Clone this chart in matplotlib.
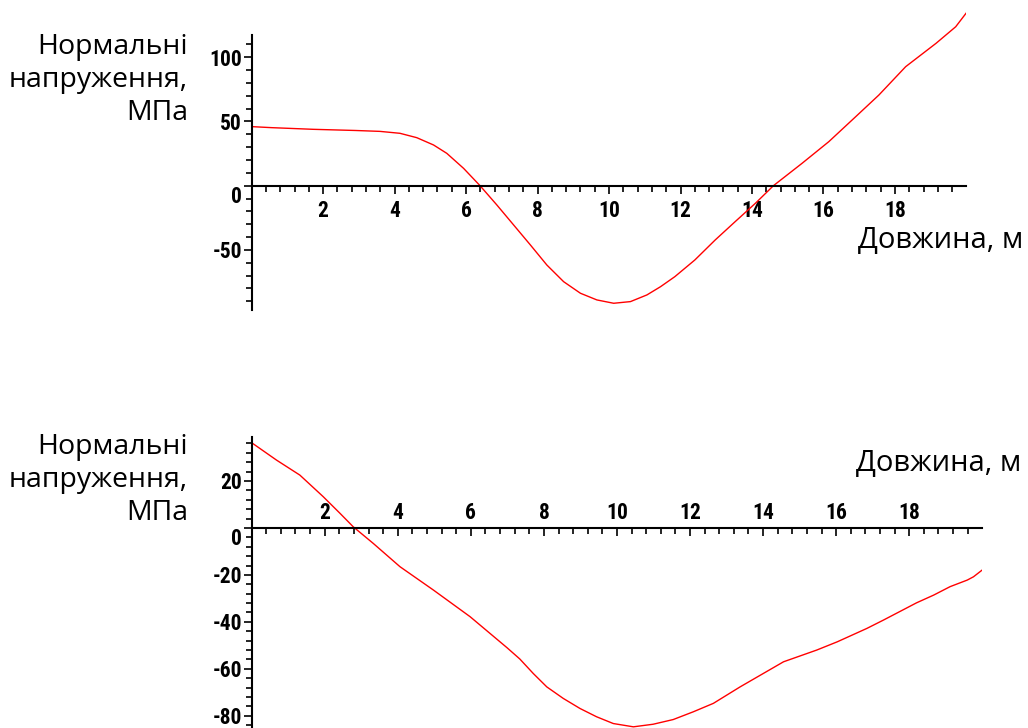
import matplotlib.pyplot as plt
import numpy as np
from matplotlib.ticker import FixedLocator

plt.rcParams['axes.unicode_minus'] = False

# Top plot: normal stresses along the length
x_top = [0, 0.56, 1.73, 2.9, 3.59, 4.15, 4.62, 5.09, 5.46, 5.93, 6.39, 6.86, 7.33, 7.8, 8.26, 8.73,
         9.2, 9.66, 10.13, 10.6, 11.06, 11.44, 11.84, 12.4, 12.97, 13.53, 14.1, 14.6, 15.4, 16.15,
         16.9, 17.55, 18.3, 19.15, 19.7, 20]
y_top = [46.0, 45.2, 43.9, 43.0, 42.3, 40.8, 37.4, 31.7, 25.2, 13.5, 0, -15, -30.6, -46.2, -61.8, -74.8,
         -83.8, -89, -91.6, -90.3, -85.1, -78.7, -70.9, -57.9, -42.3, -28, -13.6, 0, 17.4, 34.3,
         53.7, 70.6, 92.7, 110.9, 123.8, 134.7]

# Bottom plot
x_bot = [0, 0.68, 1.32, 1.96, 2.42, 2.78, 3.33, 4.06, 4.98, 5.98, 6.99, 7.34, 7.71, 8.08, 8.53, 8.99,
         9.44, 9.9, 10.45, 10.99, 11.54, 12.09, 12.64, 13.37, 14.56, 15.47, 16.03, 16.84, 17.3, 18.2,
         18.67, 19.12, 19.59, 19.76, 20]
y_bot = [36.3, 28.9, 22.5, 13.3, 6.2, 0.5, -6.6, -16.5, -26.5, -37.8, -51.0, -55.8, -62.0, -67.7, -72.6, -76.9,
         -80.4, -83.3, -84.7, -83.6, -81.6, -78.3, -74.7, -67.7, -57, -52, -48.5, -42.8, -39.2, -31.9,
         -28.6, -25, -22.2, -20.8, -17.9]

x_major = [2, 4, 6, 8, 10, 12, 14, 16, 18]
ylabel = 'Нормальні\nнапруження,\nМПа'
xlabel = 'Довжина, м'

tick_font = dict(family=['Roboto Condensed', 'DejaVu Sans'], stretch='condensed', weight='bold', size=15.5)
text_font = dict(family=['Open Sans', 'DejaVu Sans'], size=20.5)

fig = plt.figure(figsize=(10.28, 7.28), dpi=100)


def setup(ax, ylim, yspine, ymajor, yminor, labels_above):
    ax.set_xlim(0, 20)
    ax.set_ylim(*ylim)
    ax.spines['right'].set_visible(False)
    ax.spines['bottom'].set_position(('data', 0))
    ax.spines['top'].set_position(('data', 0))
    ax.spines['top'].set_visible(False)
    ax.spines['left'].set_bounds(*yspine)
    ax.spines['left'].set_linewidth(1.5)
    ax.spines['bottom'].set_linewidth(1.5)
    ax.xaxis.set_major_locator(FixedLocator(x_major))
    ax.xaxis.set_minor_locator(FixedLocator(np.arange(0.4, 19.7, 0.4)))
    ax.yaxis.set_major_locator(FixedLocator(ymajor))
    ax.yaxis.set_minor_locator(FixedLocator(yminor))
    ax.tick_params(which='both', direction='out', width=1.2, color='black')
    ax.tick_params(which='major', length=6)
    ax.tick_params(which='minor', length=4)
    ax.tick_params(axis='y', pad=1)
    if labels_above:
        ax.tick_params(axis='x', which='both', labelbottom=False, labeltop=True, top=False, pad=-3)
    else:
        ax.tick_params(axis='x', pad=4)
    for lab in ax.get_xticklabels() + ax.get_yticklabels():
        lab.set_fontproperties(tick_font)
    for t in ax.yaxis.get_major_ticks():
        if t.get_loc() == 0:
            t.label1.set_verticalalignment('top')
    ax.set_facecolor('none')


ax1 = fig.add_axes([0.2448, 0.5739, 0.6953, 0.4091])
ax1.plot(x_top, y_top, color='red', lw=1.0)
setup(ax1, (-97, 135), (-97, 117), [-50, 0, 50, 100],
      [v for v in np.arange(-90, 111, 10) if v % 50 != 0], False)

ax2 = fig.add_axes([0.2448, 0.0, 0.7107, 0.3993])
ax2.plot(x_bot, y_bot, color='red', lw=1.0)
setup(ax2, (-85.2, 38.6), (-85.2, 38.6), [-80, -60, -40, -20, 0, 20],
      [v for v in np.arange(-84, 37, 4) if v % 20 != 0], True)

fig.text(188 / 1028, 1 - 120 / 728, ylabel, ha='right', va='baseline', linespacing=1.24, **text_font)
fig.text(188 / 1028, 1 - 520 / 728, ylabel, ha='right', va='baseline', linespacing=1.24, **text_font)
fig.text(858 / 1028, 1 - 248 / 728, xlabel, ha='left', va='baseline', family=['Open Sans', 'DejaVu Sans'], size=21)
fig.text(856 / 1028, 1 - 471 / 728, xlabel, ha='left', va='baseline', family=['Open Sans', 'DejaVu Sans'], size=21)

plt.savefig('out.png', dpi=100)
